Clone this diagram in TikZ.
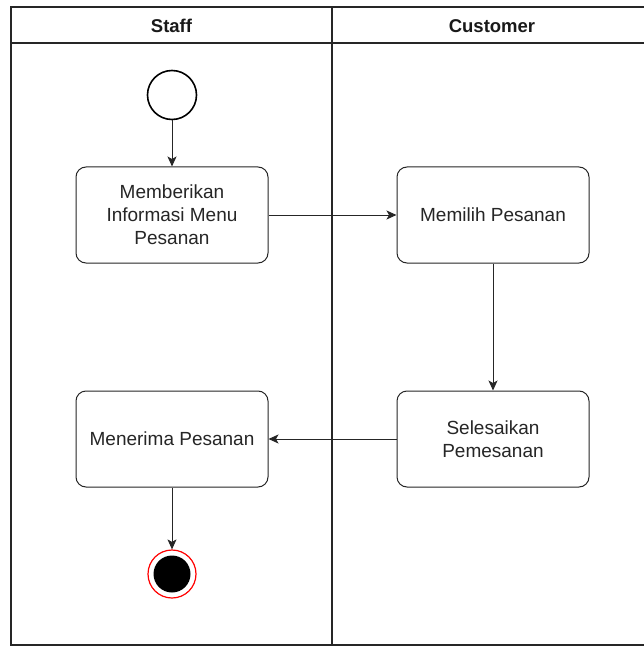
\documentclass[tikz,border=0pt]{standalone}
\usepackage{fontspec}
\setmainfont{Liberation Sans}
\usetikzlibrary{arrows.meta}
\begin{document}
\begin{tikzpicture}[x=1pt,y=-1pt,
  lane/.style={draw=black!85, line width=1.2pt},
  action/.style={draw=black!85, line width=1pt, rounded corners=10pt, fill=white,
    minimum width=192pt, minimum height=96pt, align=center, text=black!85,
    font=\fontsize{19}{23}\selectfont},
  flow/.style={draw=black!85, line width=1pt, -{Stealth[length=10pt,width=9pt,inset=2.5pt]}},
  head/.style={text=black!90, font=\bfseries\fontsize{18.5}{21}\selectfont}]
\useasboundingbox (0,0) rectangle (643,647);
% swimlane frame (right edge runs past the page)
\draw[lane] (648,7) -- (11,7) -- (11,645) -- (648,645);
\draw[lane] (11,43) -- (648,43);
\draw[lane] (332,7) -- (332,645);
\node[head] (hstaff) at (171.5,26) {Staff};
\node[head] (hcust) at (492,26) {Customer};
% start and end states
\node[circle, draw=black, line width=1.6pt, minimum size=49pt, inner sep=0pt] (start) at (172,95) {};
\node[circle, draw=red, line width=1.2pt, fill=white, minimum size=48pt, inner sep=0pt] (end) at (172,574) {};
\node[circle, fill=black, minimum size=37pt, inner sep=0pt] (endc) at (172,574) {};
% actions
\node[action] (info) at (172,215) {Memberikan\\Informasi Menu\\Pesanan};
\node[action] (pilih) at (493,215) {Memilih Pesanan};
\node[action] (terima) at (172,439) {Menerima Pesanan};
\node[action] (selesai) at (493,439) {Selesaikan\\Pemesanan};
% transitions
\draw[flow] (start) -- (info);
\draw[flow] (info) -- (pilih);
\draw[flow] (pilih) -- (selesai);
\draw[flow] (selesai) -- (terima);
\draw[flow] (terima) -- (end);
\end{tikzpicture}
\end{document}
